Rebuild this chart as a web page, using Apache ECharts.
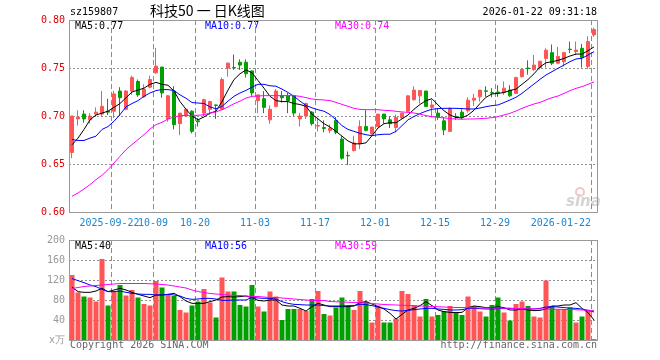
<!DOCTYPE html>
<html><head><meta charset="utf-8">
<script src="https://cdn.jsdelivr.net/npm/echarts@6/dist/echarts.min.js"></script>
<style>html,body{margin:0;padding:0;background:#fff}#c{width:660px;height:360px}</style>
</head><body><div id="c"></div>
<script>
const dates = ['2025-09-11','2025-09-12','2025-09-15','2025-09-16','2025-09-17','2025-09-18','2025-09-19','2025-09-22','2025-09-23','2025-09-24','2025-09-25','2025-09-26','2025-09-29','2025-09-30','2025-10-09','2025-10-10','2025-10-13','2025-10-14','2025-10-15','2025-10-16','2025-10-17','2025-10-20','2025-10-21','2025-10-22','2025-10-23','2025-10-24','2025-10-27','2025-10-28','2025-10-29','2025-10-30','2025-10-31','2025-11-03','2025-11-04','2025-11-05','2025-11-06','2025-11-07','2025-11-10','2025-11-11','2025-11-12','2025-11-13','2025-11-14','2025-11-17','2025-11-18','2025-11-19','2025-11-20','2025-11-21','2025-11-24','2025-11-25','2025-11-26','2025-11-27','2025-11-28','2025-12-01','2025-12-02','2025-12-03','2025-12-04','2025-12-05','2025-12-08','2025-12-09','2025-12-10','2025-12-11','2025-12-12','2025-12-15','2025-12-16','2025-12-17','2025-12-18','2025-12-19','2025-12-22','2025-12-23','2025-12-24','2025-12-25','2025-12-26','2025-12-29','2025-12-30','2025-12-31','2026-01-05','2026-01-06','2026-01-07','2026-01-08','2026-01-09','2026-01-12','2026-01-13','2026-01-14','2026-01-15','2026-01-16','2026-01-19','2026-01-20','2026-01-21','2026-01-22'];

const tickDates = ['2025-09-22','2025-10-09','2025-10-20','2025-11-03','2025-11-17','2025-12-01','2025-12-15','2025-12-29','2026-01-22'];
const tickLabels = ['2025-09-22','10-09','10-20','11-03','11-17','12-01','12-15','12-29','2026-01-22'];

const open = [0.662,0.697,0.702,0.696,0.702,0.702,0.705,0.705,0.726,0.707,
0.726,0.736,0.720,0.730,0.745,0.751,0.697,0.726,0.692,0.700,
0.705,0.695,0.703,0.707,0.7115,0.707,0.750,0.7505,0.756,0.756,
0.747,0.716,0.718,0.696,0.710,0.721,0.721,0.721,0.697,0.700,
0.704,0.6895,0.688,0.685,0.6955,0.676,0.659,0.664,0.671,0.689,
0.6815,0.689,0.702,0.696,0.688,0.698,0.705,0.717,0.721,0.726,
0.709,0.703,0.695,0.684,0.6995,0.704,0.7055,0.7165,0.720,0.7262,
0.7245,0.725,0.7245,0.727,0.7235,0.741,0.750,0.7485,0.7505,0.760,
0.766,0.755,0.7565,0.7696,0.767,0.7705,0.7515,0.7845];
const close = [0.700,0.699,0.697,0.700,0.704,0.710,0.704,0.723,0.719,0.726,
0.740,0.722,0.728,0.738,0.752,0.724,0.721,0.691,0.703,0.707,
0.684,0.694,0.717,0.715,0.711,0.738,0.755,0.750,0.753,0.744,
0.724,0.722,0.709,0.707,0.726,0.719,0.716,0.703,0.700,0.713,
0.692,0.690,0.687,0.687,0.683,0.656,0.6585,0.672,0.689,0.685,
0.6885,0.702,0.697,0.692,0.6985,0.703,0.721,0.727,0.7265,0.710,
0.7115,0.699,0.6855,0.708,0.699,0.699,0.7165,0.7185,0.727,0.7257,
0.724,0.7245,0.729,0.721,0.740,0.7485,0.7495,0.753,0.757,0.7685,
0.755,0.762,0.766,0.7692,0.7687,0.761,0.7775,0.790];
const low = [0.656,0.690,0.693,0.692,0.699,0.700,0.701,0.698,0.700,0.706,
0.722,0.720,0.719,0.729,0.744,0.719,0.694,0.686,0.680,0.699,
0.682,0.689,0.700,0.701,0.697,0.706,0.741,0.748,0.748,0.740,
0.721,0.703,0.703,0.692,0.709,0.714,0.703,0.700,0.689,0.697,
0.690,0.684,0.683,0.682,0.681,0.6545,0.649,0.663,0.6655,0.684,
0.6795,0.6885,0.692,0.6875,0.683,0.697,0.704,0.716,0.713,0.7095,
0.6985,0.696,0.680,0.6835,0.696,0.697,0.7035,0.7105,0.715,0.720,
0.7195,0.720,0.722,0.720,0.723,0.740,0.743,0.747,0.7485,0.7505,
0.753,0.754,0.7515,0.7655,0.7635,0.7505,0.749,0.7825];
const high = [0.700,0.706,0.706,0.703,0.709,0.726,0.718,0.726,0.730,0.727,
0.742,0.738,0.733,0.742,0.771,0.751,0.722,0.731,0.703,0.707,
0.706,0.698,0.718,0.716,0.712,0.740,0.756,0.764,0.759,0.759,
0.747,0.722,0.726,0.711,0.728,0.726,0.724,0.722,0.703,0.714,
0.705,0.697,0.6955,0.691,0.699,0.679,0.663,0.6795,0.6955,0.706,
0.6885,0.702,0.702,0.700,0.7015,0.703,0.7215,0.731,0.727,0.726,
0.7165,0.708,0.699,0.709,0.703,0.707,0.7195,0.723,0.727,0.731,
0.729,0.732,0.736,0.732,0.741,0.7497,0.758,0.7635,0.7575,0.7705,
0.7745,0.772,0.767,0.7775,0.7775,0.775,0.783,0.792];

const ma5 = [0.670,0.677,0.686,0.696,0.701,0.703,0.705,0.709,0.713,0.719,
0.725,0.727,0.729,0.733,0.735,0.733,0.732,0.726,0.715,0.707,
0.700,0.696,0.699,0.703,0.705,0.715,0.727,0.738,0.744,0.748,
0.745,0.737,0.729,0.7205,0.716,0.715,0.715,0.713,0.712,0.710,
0.702,0.697,0.692,0.6885,0.684,0.679,0.674,0.671,0.671,0.672,
0.6795,0.6875,0.692,0.693,0.693,0.697,0.701,0.707,0.712,0.716,
0.718,0.7115,0.7055,0.701,0.6985,0.698,0.701,0.706,0.713,0.7195,
0.723,0.7235,0.7245,0.7265,0.728,0.733,0.738,0.744,0.751,0.7555,
0.7565,0.758,0.760,0.7625,0.7645,0.7645,0.768,0.772];
const ma10 = [0.6755,0.6745,0.6745,0.677,0.679,0.686,0.689,0.6945,0.7015,0.7095,
0.713,0.716,0.7205,0.724,0.7265,0.7275,0.7275,0.7265,0.722,0.7185,
0.714,0.7135,0.713,0.7095,0.7075,0.710,0.7155,0.7205,0.724,0.7267,
0.730,0.733,0.733,0.7315,0.731,0.728,0.7245,0.7205,0.7155,0.711,
0.7085,0.7065,0.705,0.7015,0.696,0.690,0.686,0.684,0.682,0.6805,
0.6795,0.6805,0.681,0.681,0.684,0.690,0.696,0.6995,0.7025,0.705,
0.707,0.7077,0.708,0.708,0.708,0.7077,0.7073,0.7073,0.7083,0.7097,
0.7108,0.7115,0.714,0.7167,0.7195,0.7236,0.7285,0.7333,0.7382,0.7427,
0.7462,0.7497,0.7531,0.7566,0.7594,0.7601,0.7635,0.767];
const ma30 = [0.6164,0.6198,0.624,0.6285,0.6337,0.6382,0.6441,0.6511,0.658,0.665,
0.6702,0.6754,0.6806,0.6865,0.691,0.6934,0.6969,0.699,0.7003,0.7007,
0.7007,0.7007,0.7014,0.7031,0.7042,0.7066,0.7094,0.7128,0.7155,0.7187,
0.7205,0.7208,0.7212,0.7212,0.7212,0.7212,0.7212,0.7212,0.7205,0.7191,
0.7177,0.717,0.7167,0.716,0.7142,0.7121,0.7101,0.708,0.7069,0.7066,
0.7066,0.7066,0.7059,0.7056,0.7049,0.7042,0.7038,0.7031,0.702,0.7004,
0.6993,0.6986,0.698,0.6973,0.6969,0.6966,0.6969,0.6969,0.6973,0.6976,
0.6983,0.6993,0.7011,0.7028,0.7052,0.708,0.7104,0.7125,0.7142,0.7167,
0.7191,0.7208,0.7236,0.7264,0.7288,0.7306,0.733,0.7356];

const volume = [130,95,87,85,77,162,69,97,110,89,
100,85,72,69,118,105,91,88,60,55,
69,77,102,75,45,125,97,97,70,67,
110,67,57,97,87,40,62,62,62,58,
82,98,52,49,65,85,68,60,98,77,
35,69,35,35,43,98,92,70,47,82,
47,50,58,68,55,50,87,68,57,47,
70,85,55,39,72,77,68,47,45,119,
68,61,60,65,35,47,60,2];
const volMa5 = [106,96.7,95.3,95.3,98,103.3,96.7,100,103.3,100,
95.3,91.3,88,84.7,90,90,91.3,93.3,86.7,78,
73.3,73.3,73.3,76.7,80,86,86.7,86,86.7,88,
84.7,79.3,78,80,80,70,68,68,63.3,58,
66.7,73.3,70,66.7,66.7,66.7,66.7,68,74.7,76.7,
72,66.7,62,53.3,42,51.3,60,63.3,68.7,76.7,
68.7,60,56.7,55.3,54.7,55.3,64.7,68,66.7,64.7,
64.7,66.7,64.7,60,60,62,60,58.7,59.3,62,
68,68,70,70,74.7,63.3,54.7,40];
const volMa10 = [123,118.7,114.7,110,106.7,101.3,96.7,96.7,98,95.3,
93.3,92,91.3,91.3,90,90,91.3,90,88,83.3,
81.3,82,83.3,83.3,82,79.3,79.3,80,80,80,
85.3,84,83.3,83.3,82,76.7,73.3,71.3,70.7,70,
70,70,68.7,68,68,68,68.7,68.7,71.3,70.7,
68.7,66,63.3,60.7,58.7,58,59.3,60.7,62,63.3,
63.3,62,61.3,60,60,60.7,63.3,63.3,62.7,62,
62,62.7,63.3,63.3,62.7,62,62,62,63.3,66,
66.7,66,64.7,64,63.3,62,59.3,56];
const volMa30 = [103,105,107,108,109,110,111,112,113,113,
113,113,113,112.5,112,111,110,108,106,104,
100,97,95,93,92,91,90,89,89,88,
87,87,86,85,85,84,83,82,81,80,
79,79,79,77,76.5,76,75.5,75,74.5,74,
73,72,71,70.5,70,69.5,69,68.5,68,67.5,
67,66.5,66,65.5,65,65,64.5,64.5,64,64,
64,64,63.5,63.5,63,63,62.5,62.5,62,62,
61.5,61.5,61,61,60.5,60,59.5,59];

const priceTicks = [0.60, 0.80, 0.05];
const volTicks = [0, 200, 40];

const RED = '#ff5555', GREEN = '#00a000';
const MONO = 'DejaVu Sans Mono';
const tickIdx = tickDates.map(d => dates.indexOf(d));
const showTick = (i) => tickIdx.indexOf(i) >= 0;
const firstTick = tickIdx[0], lastTick = tickIdx[tickIdx.length - 1];

const G0 = {left: 69, top: 20, width: 528, height: 192};
const G1 = {left: 69, top: 240, width: 528, height: 100};

const chart = echarts.init(document.getElementById('c'));
const splitX = {show: true, interval: (i) => showTick(i), lineStyle: {color: '#8c8c8c', type: [5, 3], width: 1, opacity: 1}};
const splitY = {show: true, interval: 0, lineStyle: {color: '#909090', type: [2, 2], width: 1, opacity: 1}};
const lineSeries = (name, data, color, xi, yi) => ({
  name, type: 'line', data, xAxisIndex: xi, yAxisIndex: yi, showSymbol: false, symbol: 'none',
  smooth: false, lineStyle: {color, width: 1}, itemStyle: {color}, z: 5, silent: true, animation: false
});
const labelAxis = (filter, pad, extra) => Object.assign({
  type: 'category', gridIndex: 0, data: dates, boundaryGap: true, position: 'bottom',
  axisLine: {show: false}, axisTick: {show: false}, splitLine: {show: false},
  axisLabel: Object.assign({show: true, interval: (i) => filter(i), hideOverlap: false, color: '#1a86d0', fontFamily: MONO,
    fontSize: 10, margin: 6, padding: pad,
    formatter: (v, i) => tickLabels[tickIdx.indexOf(i)] || ''}, extra || {})
});

chart.setOption({
  animation: false,
  grid: [G0, G1],
  xAxis: [
    {type: 'category', gridIndex: 0, data: dates, boundaryGap: true, z: 1,
     axisLine: {show: false}, axisTick: {show: false}, axisLabel: {show: false}, splitLine: splitX},
    {type: 'category', gridIndex: 1, data: dates, boundaryGap: true, z: 1,
     axisLine: {show: false}, axisTick: {show: false}, axisLabel: {show: false}, splitLine: splitX},
    labelAxis((i) => showTick(i) && i !== firstTick && i !== lastTick, [0, 6, 0, 0]),
    labelAxis((i) => i === firstTick, [0, 9, 0, 0]),
    labelAxis((i) => i === lastTick, [0, 3, 0, 0], {align: 'right', alignMaxLabel: 'right'})
  ],
  yAxis: [
    {type: 'value', gridIndex: 0, min: priceTicks[0], max: priceTicks[1], interval: priceTicks[2], z: 1,
     axisLine: {show: false}, axisTick: {show: false},
     axisLabel: {color: '#e00000', fontFamily: MONO, fontSize: 10, margin: 4, formatter: (v) => v.toFixed(2)},
     splitLine: splitY},
    {type: 'value', gridIndex: 1, min: volTicks[0], max: volTicks[1], interval: volTicks[2], z: 1,
     axisLine: {show: false}, axisTick: {show: false},
     axisLabel: {color: '#999', fontFamily: MONO, fontSize: 10, margin: 4, formatter: (v) => v === 0 ? 'x万' : String(v)},
     splitLine: splitY}
  ],
  series: [
    {type: 'candlestick', xAxisIndex: 0, yAxisIndex: 0, barWidth: 4,
     data: dates.map((d, i) => [open[i], close[i], low[i], high[i]]),
     itemStyle: {color: RED, color0: GREEN, borderColor: RED, borderColor0: GREEN, borderWidth: 1}, z: 3},
    lineSeries('MA5', ma5, '#000000', 0, 0),
    lineSeries('MA10', ma10, '#0000ff', 0, 0),
    lineSeries('MA30', ma30, '#ff00ff', 0, 0),
    {type: 'bar', xAxisIndex: 1, yAxisIndex: 1, barWidth: 5,
     data: volume.map((v, i) => ({value: v, itemStyle: {color: close[i] >= open[i] ? RED : GREEN}})), z: 3},
    lineSeries('VMA5', volMa5, '#000000', 1, 1),
    lineSeries('VMA10', volMa10, '#0000ff', 1, 1),
    lineSeries('VMA30', volMa30, '#ff00ff', 1, 1)
  ],
  graphic: [
    {type: 'rect', shape: {x: G0.left + 0.5, y: G0.top + 0.5, width: G0.width, height: G0.height}, style: {fill: 'none', stroke: '#999', lineWidth: 1}, z: 10, silent: true},
    {type: 'rect', shape: {x: G1.left + 0.5, y: G1.top + 0.5, width: G1.width, height: G1.height}, style: {fill: 'none', stroke: '#999', lineWidth: 1}, z: 10, silent: true},
    {type: 'text', left: 70, top: 7, style: {text: 'sz159807', font: '10px "' + MONO + '"', fill: '#000'}},
    {type: 'text', left: 150, top: 4, style: {text: '科技50 一 日K线图', font: '14px "Noto Sans CJK SC"', fill: '#000'}},
    {type: 'text', right: 63, top: 7, style: {text: '2026-01-22 09:31:18', font: '10px "' + MONO + '"', fill: '#000'}},
    {type: 'text', left: 75, top: 21, style: {text: 'MA5:0.77', font: '10px "' + MONO + '"', fill: '#000'}},
    {type: 'text', left: 205, top: 21, style: {text: 'MA10:0.77', font: '10px "' + MONO + '"', fill: '#0000ff'}},
    {type: 'text', left: 335, top: 21, style: {text: 'MA30:0.74', font: '10px "' + MONO + '"', fill: '#ff00ff'}},
    {type: 'text', left: 75, top: 241, style: {text: 'MA5:40', font: '10px "' + MONO + '"', fill: '#000'}},
    {type: 'text', left: 205, top: 241, style: {text: 'MA10:56', font: '10px "' + MONO + '"', fill: '#0000ff'}},
    {type: 'text', left: 335, top: 241, style: {text: 'MA30:59', font: '10px "' + MONO + '"', fill: '#ff00ff'}},
    {type: 'text', left: 70, top: 340, style: {text: 'Copyright 2026 SINA.COM', font: '10px "' + MONO + '"', fill: '#666'}},
    {type: 'text', right: 63, top: 340, style: {text: 'http://finance.sina.com.cn', font: '10px "' + MONO + '"', fill: '#666'}},
    {type: 'circle', shape: {cx: 580, cy: 192, r: 4}, style: {fill: 'none', stroke: '#f6c4c4', lineWidth: 2}, z: 1},
    {type: 'text', left: 566, top: 195, style: {text: 'sina', font: 'italic bold 15px "DejaVu Sans"', fill: '#d4d4d4'}, z: 1}
  ]
});
</script></body></html>
